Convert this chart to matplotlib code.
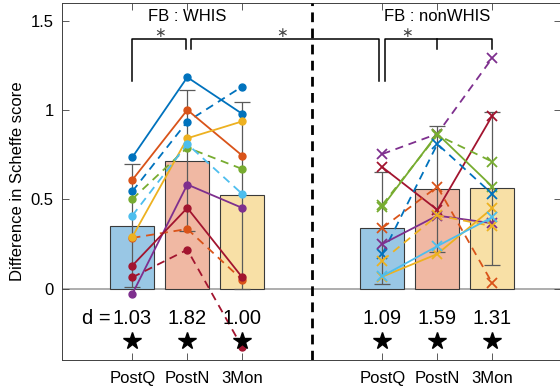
import numpy as np
import matplotlib.pyplot as plt

# --- data ---
conditions = ["PostQ", "PostN", "3Mon"]
x_whis = [1, 2, 3]
x_non = [5.55, 6.55, 7.55]

whis_mean = [0.353, 0.717, 0.523]
whis_err = [0.346, 0.395, 0.525]
non_mean = [0.338, 0.558, 0.562]
non_err = [0.315, 0.355, 0.43]

whis_d = ["1.03", "1.82", "1.00"]
non_d = ["1.09", "1.59", "1.31"]

# individual subjects, FB : WHIS (PostQ, PostN, 3Mon)
whis_subjects = [
    [0.736, 1.184, 0.979],
    [0.545, 0.936, 1.132],
    [0.609, 1.001, 0.745],
    [0.284, 0.334, 0.049],
    [0.290, 0.842, 0.937],
    [-0.030, 0.583, 0.452],
    [0.502, 0.790, 0.670],
    [0.409, 0.810, 0.530],
    [0.129, 0.452, 0.063],
    [0.063, 0.218, -0.329],
]
# individual subjects, FB : nonWHIS
non_subjects = [
    [0.754, 0.867, 1.292],
    [0.680, 0.441, 0.969],
    [0.459, 0.867, 0.571],
    [0.470, 0.860, 0.711],
    [0.194, 0.810, 0.530],
    [0.340, 0.571, 0.030],
    [0.250, 0.409, 0.366],
    [0.157, 0.410, 0.350],
    [0.067, 0.194, 0.450],
    [0.070, 0.238, 0.400],
]

# MATLAB default colours
blue, orange, yellow, purple = "#0072BD", "#D95319", "#EDB120", "#7E2F8E"
green, cyan, red = "#77AC30", "#4DBEEE", "#A2142F"
whis_style = [(blue, "-"), (blue, "--"), (orange, "-"), (orange, "--"), (yellow, "-"),
              (purple, "-"), (green, "--"), (cyan, "--"), (red, "-"), (red, "--")]
non_style = [(purple, "--"), (red, "-"), (green, "-"), (green, "--"), (blue, "--"),
             (orange, "--"), (purple, "-"), (yellow, "--"), (yellow, "-"), (cyan, "-")]
bar_colors = ["#99C7E5", "#F0B8A3", "#F8E0A6"]

plt.rcParams["font.family"] = ["Liberation Sans", "DejaVu Sans"]
fig = plt.figure(figsize=(5.6, 3.92), dpi=100)
ax = fig.add_axes([62 / 560, 32 / 392, 499 / 560, 357 / 392])

dash = (0, (4.5, 3.2))
for xs, means, errs, subjects, styles, mk in [
    (x_whis, whis_mean, whis_err, whis_subjects, whis_style, "o"),
    (x_non, non_mean, non_err, non_subjects, non_style, "x"),
]:
    ax.bar(xs, means, width=0.8, color=bar_colors, edgecolor="#3a3a3a", lw=0.8, zorder=1)
    ax.errorbar(xs, means, yerr=errs, fmt="none", ecolor="#5a5a5a", elinewidth=0.9,
                capsize=6, capthick=0.9, zorder=2)
    for vals, (c, ls) in zip(subjects, styles):
        if mk == "o":
            ax.plot(xs, vals, color=c, ls=dash if ls == "--" else ls, lw=1.3,
                    marker="o", ms=5, zorder=3)
        else:
            ax.plot(xs, vals, color=c, ls=dash if ls == "--" else ls, lw=1.3,
                    marker="x", ms=7, mew=1.3, zorder=3)

ax.axhline(0, color="#a0a0a0", lw=1.2, zorder=0.5)
ax.axvline(4.27, color="black", lw=2, ls=(0, (3.5, 2.3)), zorder=4)

# significance brackets
yt, ym, yl = 1.399, 1.343, 1.161
bk = dict(color="black", lw=1.1, zorder=4)
ax.plot([1, 1, 1.97, 1.97], [yl, yt, yt, ym], **bk)
ax.plot([2.07, 2.07, 5.49, 5.49], [ym, yt, yt, yl], **bk)
ax.plot([5.6, 5.6, 7.55, 7.55], [yl, yt, yt, ym], **bk)
ax.plot([6.55, 6.55], [yt, ym], **bk)
for xa in [1.5, 3.72, 6.0]:
    ax.text(xa, 1.43, "∗", ha="center", va="center", fontsize=10,
            family=["DejaVu Sans"], color="#444444")

ax.text(2, 1.524, "FB : WHIS", ha="center", va="center", fontsize=12)
ax.text(6.55, 1.524, "FB : nonWHIS", ha="center", va="center", fontsize=12)

# effect sizes and stars
for xs, labels in [(x_whis, whis_d), (x_non, non_d)]:
    for xv, lab in zip(xs, labels):
        ax.text(xv, -0.168, lab, ha="center", va="center", fontsize=14.5)
    ax.plot(xs, [-0.291] * 3, ls="none", marker="*", ms=13, color="black", zorder=4)
ax.text(0.6, -0.168, "d =", ha="right", va="center", fontsize=14.5)

ax.set_xlim(-0.28, 8.8)
ax.set_ylim(-0.4, 1.6)
ax.set_xticks(x_whis + x_non)
ax.set_xticklabels(conditions + conditions)
ax.set_yticks([0, 0.5, 1, 1.5])
ax.set_yticklabels(["0", "0.5", "1", "1.5"])
ax.set_ylabel("Difference in Scheffe score", fontsize=12, labelpad=4)
ax.tick_params(direction="in", length=5, width=0.6, color="#404040", labelsize=12,
               top=True, right=True)
ax.tick_params(axis="x", pad=8)
ax.tick_params(axis="y", pad=6)
for s in ax.spines.values():
    s.set_color("#404040")
    s.set_linewidth(0.7)

fig.savefig("out.png", dpi=100)
